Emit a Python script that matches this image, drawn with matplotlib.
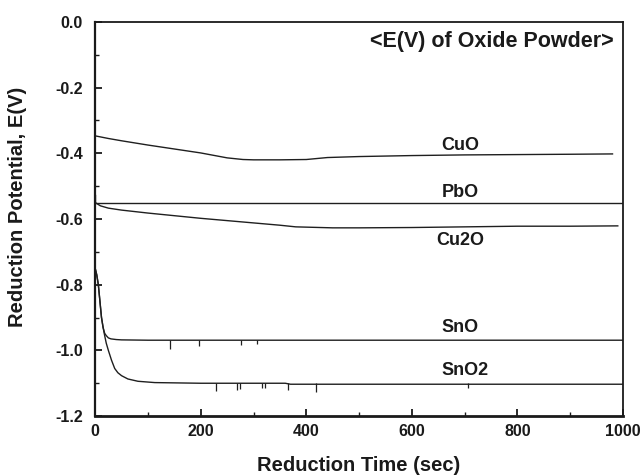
import matplotlib
matplotlib.use("Agg")
import matplotlib.pyplot as plt
from matplotlib.ticker import MultipleLocator, FormatStrFormatter

plt.rcParams["font.family"] = ["Liberation Sans", "DejaVu Sans"]
plt.rcParams["font.weight"] = "bold"
plt.rcParams["axes.unicode_minus"] = False

# Reduction potential curves (time in sec, potential in V)
cuo_t = [0, 0, 25, 50, 100, 150, 200, 250, 280, 300, 350, 400, 440, 500, 600, 700, 800, 900, 980]
cuo_e = [-0.305, -0.347, -0.355, -0.362, -0.375, -0.387, -0.399, -0.414, -0.419, -0.420, -0.420,
         -0.419, -0.413, -0.410, -0.407, -0.405, -0.404, -0.403, -0.402]

pbo_t = [0, 0, 1000]
pbo_e = [-0.527, -0.550, -0.550]

cu2o_t = [0, 10, 25, 50, 100, 150, 200, 250, 300, 350, 380, 450, 500, 600, 700, 800, 900, 990]
cu2o_e = [-0.550, -0.560, -0.567, -0.573, -0.582, -0.590, -0.598, -0.605, -0.612, -0.619, -0.624,
          -0.627, -0.627, -0.626, -0.624, -0.622, -0.622, -0.621]

sno_t = [0, 3, 6, 9, 12, 15, 18, 21, 25, 30, 40, 50, 100, 1000]
sno_e = [-0.750, -0.770, -0.800, -0.850, -0.900, -0.930, -0.948, -0.955, -0.962, -0.965, -0.967,
         -0.968, -0.969, -0.969]

sno2_t = [0, 3, 6, 9, 12, 15, 18, 21, 25, 31, 37, 43, 50, 62, 81, 113, 200, 360, 370, 1000]
sno2_e = [-0.750, -0.770, -0.800, -0.850, -0.900, -0.930, -0.955, -0.978, -1.000, -1.030, -1.055,
          -1.068, -1.077, -1.087, -1.094, -1.098, -1.100, -1.100, -1.103, -1.103]

# Short downward noise spikes on the tin oxide plateaus
sno_spike_t = [142, 197, 276, 306]
sno_spike_e = [-0.996, -0.987, -0.984, -0.980]
sno2_spike_t = [229, 269, 275, 316, 322, 366, 419, 707]
sno2_spike_e = [-1.124, -1.121, -1.118, -1.115, -1.113, -1.120, -1.127, -1.115]

labels = ["CuO", "PbO", "Cu2O", "SnO", "SnO2"]
label_t = [692, 692, 692, 692, 700]
label_e = [-0.375, -0.520, -0.664, -0.930, -1.060]

fig = plt.figure(figsize=(6.43, 4.75), dpi=100)
ax = fig.add_axes([0.148, 0.124, 0.821, 0.830])

line_kw = dict(color="#1f1f1f", lw=1.0)
ax.plot(cuo_t, cuo_e, **line_kw)
ax.plot(pbo_t, pbo_e, **line_kw)
ax.plot(cu2o_t, cu2o_e, **line_kw)
ax.plot(sno_t, sno_e, **line_kw)
ax.plot(sno2_t, sno2_e, **line_kw)
ax.vlines(sno_spike_t, sno_e[-1], sno_spike_e, color="#1f1f1f", lw=0.9)
ax.vlines(sno2_spike_t, sno2_e[-3], sno2_spike_e, color="#1f1f1f", lw=0.9)

for lab, t, e in zip(labels, label_t, label_e):
    ax.text(t, e, lab, ha="center", va="center", fontsize=13, fontweight="bold", color="#1a1a1a")

ax.text(982, -0.061, "<E(V) of Oxide Powder>", ha="right", va="center",
        fontsize=15.5, fontweight="bold", color="#1a1a1a")

ax.set_xlim(0, 1000)
ax.set_ylim(-1.2, 0.0)
ax.xaxis.set_major_locator(MultipleLocator(200))
ax.xaxis.set_minor_locator(MultipleLocator(100))
ax.yaxis.set_major_locator(MultipleLocator(0.2))
ax.yaxis.set_minor_locator(MultipleLocator(0.1))
ax.yaxis.set_major_formatter(FormatStrFormatter("%.1f"))

ax.tick_params(which="both", direction="in", top=False, right=False, colors="#1a1a1a")
ax.tick_params(which="major", length=5, width=1.3, labelsize=11.5, pad=6)
ax.tick_params(axis="y", which="major", pad=9)
ax.tick_params(which="minor", length=3, width=1.0)
for lbl in ax.get_xticklabels() + ax.get_yticklabels():
    lbl.set_fontweight("bold")

for side, sp in ax.spines.items():
    sp.set_color("#1a1a1a")
    sp.set_linewidth(1.3)
ax.spines["bottom"].set_linewidth(2.0)
ax.spines["left"].set_linewidth(1.6)

ax.set_xlabel("Reduction Time (sec)", fontsize=14.5, fontweight="bold", labelpad=12, color="#1a1a1a")
ax.set_ylabel("Reduction Potential, E(V)", fontsize=14.5, fontweight="bold", color="#1a1a1a")
ax.yaxis.set_label_coords(-0.13, 0.53)

fig.savefig("out.png", dpi=100)
